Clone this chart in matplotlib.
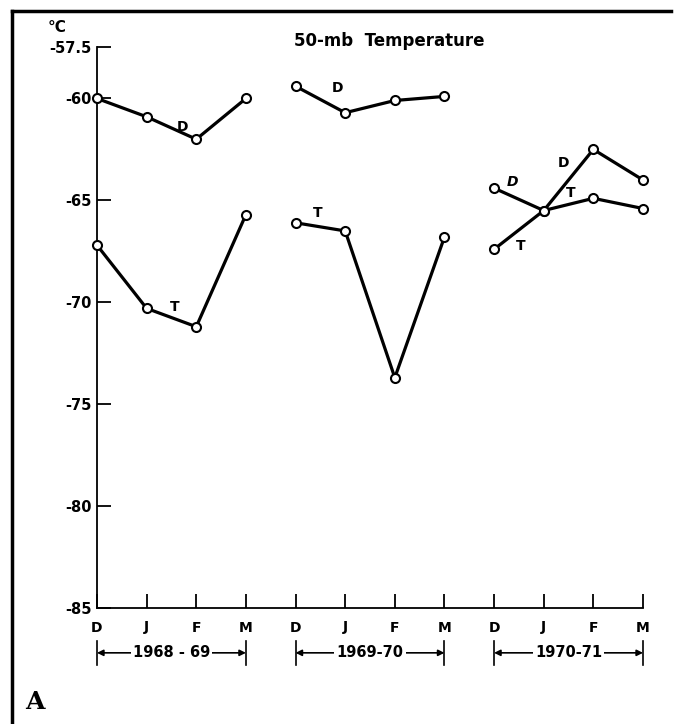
import matplotlib.pyplot as plt
import matplotlib.transforms as mtransforms
from matplotlib.lines import Line2D

# Winter months, three seasons side by side
months = ['D', 'J', 'F', 'M'] * 3
seasons = ['1968 - 69', '1969-70', '1970-71']

# 50-mb temperature (deg C), one list per season
d_vals = [
    [-60.0, -60.9, -62.0, -60.0],
    [-59.4, -60.7, -60.1, -59.9],
    [-64.4, -65.5, -62.5, -64.0],
]
t_vals = [
    [-67.2, -70.3, -71.2, -65.7],
    [-66.1, -66.5, -73.7, -66.8],
    [-67.4, -65.5, -64.9, -65.4],
]

yticks = [-57.5, -60, -65, -70, -75, -80, -85]
ytick_labels = ['-57.5', '-60', '-65', '-70', '-75', '-80', '-85']

fig = plt.figure(figsize=(6.75, 7.24), dpi=100)
ax = fig.add_axes([97 / 675, 116 / 724, 546 / 675, 560.5 / 724])

line_kw = dict(color='black', lw=2.3, marker='o', markersize=6.5,
               markerfacecolor='white', markeredgecolor='black',
               markeredgewidth=1.5, clip_on=False, zorder=3)
for s in range(3):
    xs = [4 * s + i for i in range(4)]
    ax.plot(xs, d_vals[s], **line_kw)
    ax.plot(xs, t_vals[s], **line_kw)

# curve labels
lbl = dict(fontsize=10, fontweight='bold', ha='center', va='center')
ax.text(1.73, -61.4, 'D', **lbl)
ax.text(1.57, -70.23, 'T', **lbl)
ax.text(4.85, -59.48, 'D', **lbl)
ax.text(4.45, -65.62, 'T', **lbl)
ax.text(8.38, -64.1, 'D', style='italic', **lbl)
ax.text(9.39, -63.16, 'D', **lbl)
ax.text(9.55, -64.64, 'T', **lbl)
ax.text(8.54, -67.24, 'T', **lbl)

ax.set_xlim(0, 11)
ax.set_ylim(-85, -57.5)
ax.set_xticks(range(12))
ax.set_xticklabels(months, fontsize=10, fontweight='bold')
ax.set_yticks(yticks)
ax.set_yticklabels(ytick_labels, fontsize=10.5, fontweight='bold')
ax.tick_params(axis='x', direction='in', length=10, width=1.3, pad=9)
ax.tick_params(axis='y', direction='in', length=10, width=1.3, pad=4)
for side in ['top', 'right']:
    ax.spines[side].set_visible(False)
for side in ['left', 'bottom']:
    ax.spines[side].set_linewidth(1.3)

fig.text(389 / 675, 1 - 41 / 724, '50-mb  Temperature', fontsize=12,
         fontweight='bold', ha='center', va='center')

# season brackets below the axis
trans = mtransforms.blended_transform_factory(ax.transData, ax.transAxes)
yb = -0.080
for s, name in enumerate(seasons):
    x0, x1 = 4 * s, 4 * s + 3
    xm = (x0 + x1) / 2
    for xe in (x0, x1):
        ax.annotate('', xy=(xe, yb), xytext=(xm, yb), xycoords=trans,
                    textcoords=trans, annotation_clip=False,
                    arrowprops=dict(arrowstyle='-|>', color='black', lw=1.2,
                                    mutation_scale=9, shrinkA=0, shrinkB=0))
        ax.add_line(Line2D([xe, xe], [yb + 0.021, yb - 0.022], color='black',
                           lw=1.2, transform=trans, clip_on=False))
    ax.text(xm, yb, name, transform=trans, fontsize=10.5,
            fontweight='bold', ha='center', va='center',
            bbox=dict(facecolor='white', edgecolor='none', pad=1.5))

# degree label, panel letter, and frame lines
fig.text(57 / 675, 1 - 27 / 724, '°C', fontsize=11, fontweight='bold',
         ha='center', va='center')
fig.text(35 / 675, 1 - 702 / 724, 'A', family='DejaVu Serif', fontsize=18,
         fontweight='bold', ha='center', va='center')
fig.add_artist(Line2D([12 / 675, 12 / 675], [0, 1 - 11 / 724], color='black',
                      lw=2.5, transform=fig.transFigure))
fig.add_artist(Line2D([12 / 675, 671 / 675], [1 - 11 / 724, 1 - 11 / 724],
                      color='black', lw=2.5, transform=fig.transFigure))

fig.savefig('out.png', dpi=100)
